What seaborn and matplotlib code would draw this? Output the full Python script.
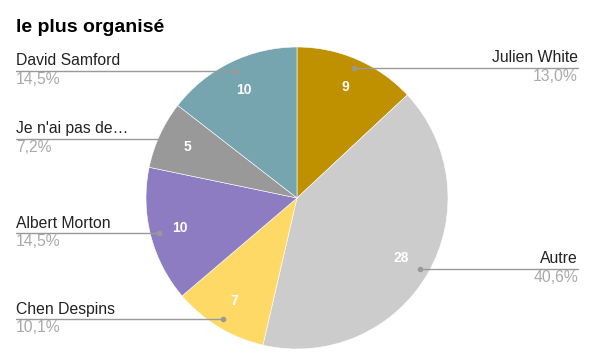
import numpy as np
import matplotlib
matplotlib.use("Agg")
import matplotlib.pyplot as plt
import seaborn as sns

# ── data ──────────────────────────────────────────────────────────────────────
names = ["Julien White", "Autre", "Chen Despins", "Albert Morton",
         "Je n'ai pas de…", "David Samford"]
counts = [9, 28, 7, 10, 5, 10]
colors = ["#bf9000", "#cccccc", "#ffd966", "#8e7cc3", "#999999", "#76a5af"]
title = "le plus organisé"

sns.set_style("white")
plt.rcParams["font.family"] = ["Liberation Sans", "DejaVu Sans"]

W, H = 592, 363
fig = plt.figure(figsize=(W / 100, H / 100), dpi=100)
ax = fig.add_axes([0, 0, 1, 1])

cx, cy, r = 297, H - 198, 151
wedges, _ = ax.pie(counts, colors=colors, startangle=90, counterclock=False,
                   center=(cx, cy), radius=r, frame=True,
                   wedgeprops=dict(edgecolor="white", linewidth=0.4))
ax.set_xlim(0, W)
ax.set_ylim(0, H)
ax.set_aspect("equal")
ax.axis("off")

total = sum(counts)
for w, n, c in zip(wedges, names, counts):
    mid = np.deg2rad((w.theta1 + w.theta2) / 2)
    # value inside slice
    ax.text(cx + 0.8 * r * np.cos(mid), cy + 0.8 * r * np.sin(mid), str(c),
            color="white", fontsize=10, fontweight="bold",
            ha="center", va="center")
    # leader dot + line
    dx, dy = cx + 0.94 * r * np.cos(mid), cy + 0.94 * r * np.sin(mid)
    pct = f"{100 * c / total:.1f}%".replace(".", ",")
    if np.cos(mid) >= 0:
        x_end, ha = 578, "right"
    else:
        x_end, ha = 16, "left"
    ax.plot([dx, x_end], [dy, dy], color="#999999", lw=1.0, zorder=5)
    ax.plot(dx, dy, "o", color="#999999", ms=3, zorder=6)
    ax.text(x_end, dy + 2.5, n, ha=ha, va="bottom", fontsize=11.3, color="#222222")
    ax.text(x_end, dy - 1, pct, ha=ha, va="top", fontsize=11.3, color="#aaaaaa")

ax.text(16, H - 27, title, fontsize=14, fontweight="bold", color="black",
        ha="left", va="center")

fig.savefig("out.png", dpi=100)
